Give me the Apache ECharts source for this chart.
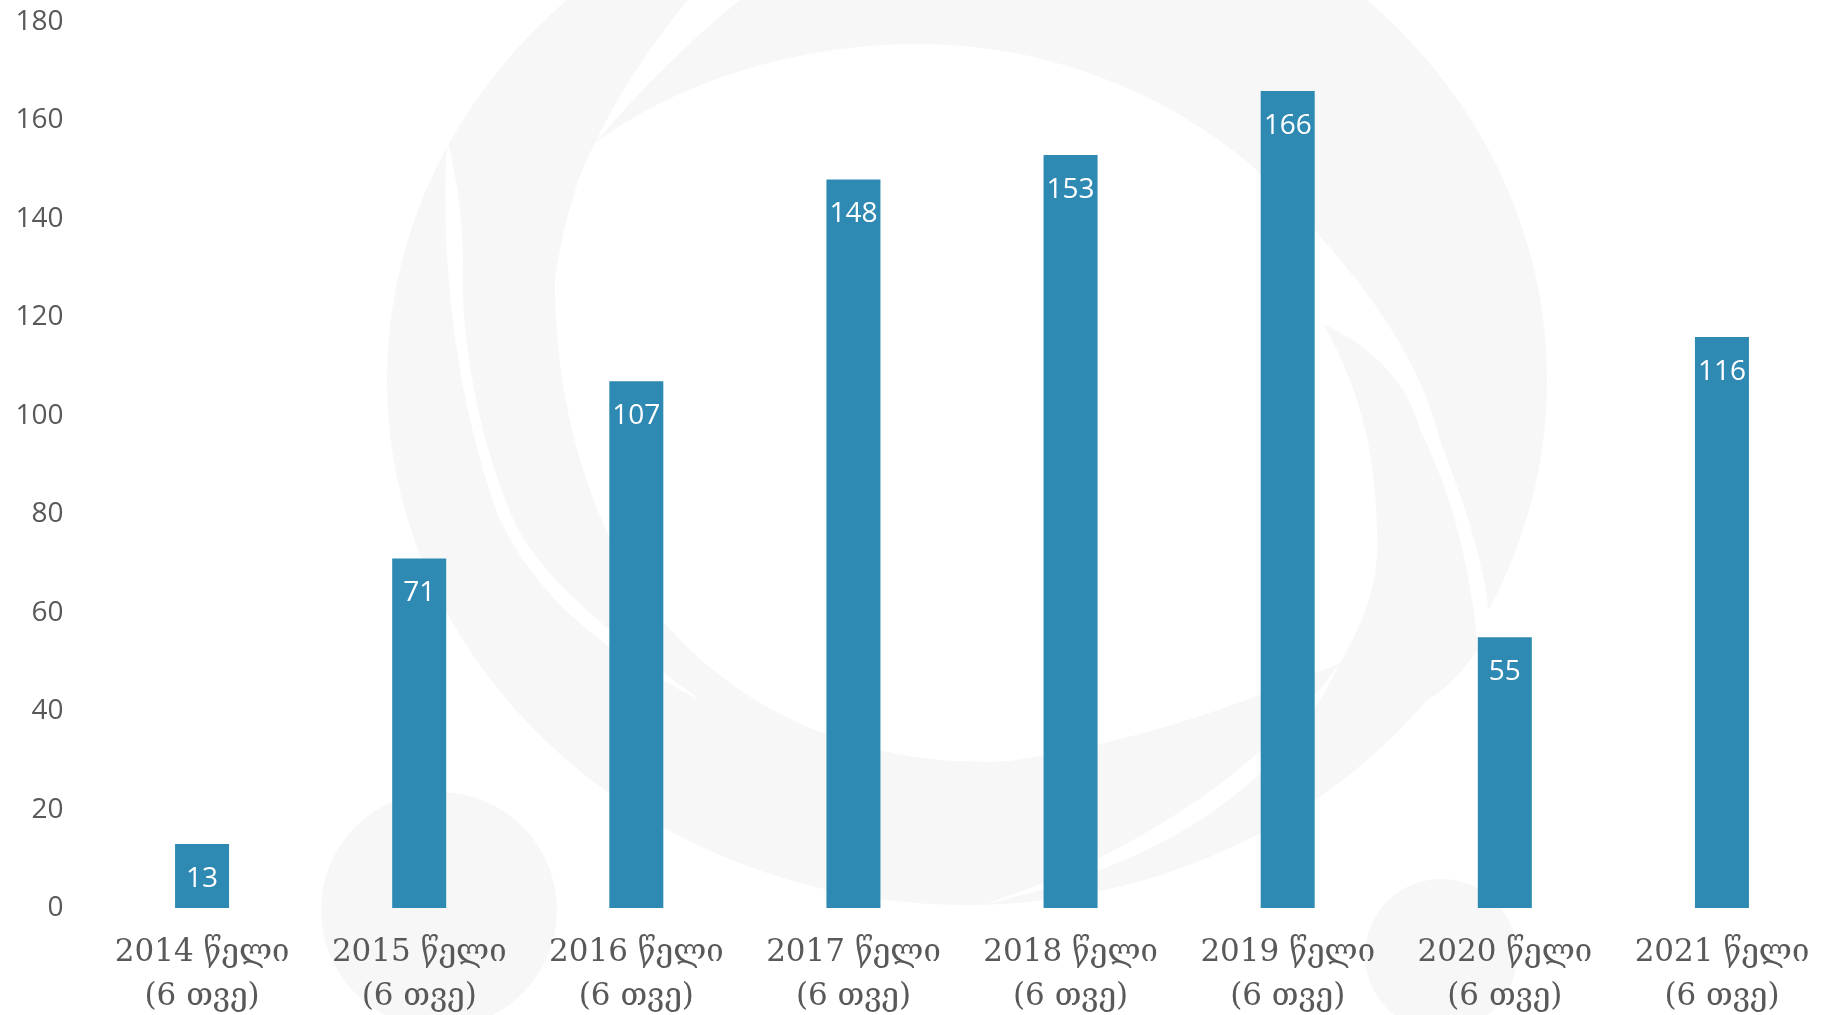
<!DOCTYPE html>
<html><head><meta charset="utf-8">
<script src="https://cdn.jsdelivr.net/npm/echarts@6/dist/echarts.min.js"></script>
<style>html,body{margin:0;padding:0;background:#fff}#c{width:1821px;height:1015px}</style>
</head><body><div id="c"></div>
<script>
const categories = ['2014 წელი\n(6 თვე)','2015 წელი\n(6 თვე)','2016 წელი\n(6 თვე)','2017 წელი\n(6 თვე)','2018 წელი\n(6 თვე)','2019 წელი\n(6 თვე)','2020 წელი\n(6 თვე)','2021 წელი\n(6 თვე)'];
const values = [13, 71, 107, 148, 153, 166, 55, 116];
const yTicks = [0, 20, 40, 60, 80, 100, 120, 140, 160, 180];

// turn a simple absolute path (M, C, L, Z) into polygon points for the background watermark
function pathPoints(d) {
  const tok = d.match(/[MCLZ]|-?\d+(\.\d+)?/g);
  const pts = []; let i = 0, cmd = null, cur = [0, 0];
  const num = () => parseFloat(tok[i++]);
  while (i < tok.length) {
    if (/[MCLZ]/.test(tok[i])) { cmd = tok[i++]; if (cmd === 'Z') continue; }
    if (cmd === 'M' || cmd === 'L') { cur = [num(), num()]; pts.push(cur); }
    else if (cmd === 'C') {
      const p1 = [num(), num()], p2 = [num(), num()], p3 = [num(), num()], p0 = cur;
      for (let k = 1; k <= 24; k++) {
        const t = k / 24, u = 1 - t;
        pts.push([
          u*u*u*p0[0] + 3*u*u*t*p1[0] + 3*u*t*t*p2[0] + t*t*t*p3[0],
          u*u*u*p0[1] + 3*u*u*t*p1[1] + 3*u*t*t*p2[1] + t*t*t*p3[1]
        ]);
      }
      cur = p3;
    } else i++;
  }
  return pts;
}

const chart = echarts.init(document.getElementById('c'), null, {renderer:'canvas'});
const wm = '#f7f7f7';
const W = '#ffffff';
const poly = (d, fill, z) => ({type:'polygon', z:z, silent:true, shape:{points: pathPoints(d)}, style:{fill:fill}});
chart.setOption({
  backgroundColor: '#ffffff',
  animation: false,
  graphic: [
    {type:'ellipse', z:-10, silent:true, shape:{cx:967, cy:380, rx:580, ry:525}, style:{fill:wm}},
    poly('M555,279 C565,215 578,175 595,143 C680,80 800,44 918,44 C1080,44 1220,120 1300,214 C1370,290 1420,360 1440,440 C1470,520 1490,580 1490,640 C1440,650 1390,655 1340,663 C1250,700 1150,740 1010,761 C850,770 700,700 620,560 C575,470 555,380 555,279 Z', W, -9),
    poly('M1323,324 C1380,350 1410,390 1420,430 C1450,490 1470,560 1478,650 C1440,700 1400,740 1340,663 C1365,620 1380,580 1377,530 C1375,440 1355,380 1323,324 Z', wm, -8),
    poly('M1340,663 C1270,760 1150,850 985,904 C1160,865 1280,790 1340,663 Z', W, -7),
    poly('M447,139 C440,260 455,400 500,520 C540,600 600,650 700,700 C620,640 540,580 513,519 C475,430 460,330 463,259 C462,210 455,170 447,139 Z', W, -7),
    poly('M595,143 C620,90 655,40 688,0 L740,0 C690,40 640,90 595,143 Z', W, -7),
    {type:'circle', z:-10, silent:true, shape:{cx:439, cy:910, r:118}, style:{fill:wm}},
    {type:'circle', z:-10, silent:true, shape:{cx:1441, cy:955, r:76}, style:{fill:wm}}
  ],
  grid: {left: 93.5, width: 1737, top: 22, bottom: 107, outerBoundsMode: 'none', containLabel: false},
  xAxis: {
    type: 'category', data: categories,
    axisLine: {show:false}, axisTick: {show:false},
    axisLabel: {margin: 23, color:'#595959', fontFamily:'DejaVu Serif', fontSize: 31, lineHeight: 44, interval: 0, hideOverlap: false}
  },
  yAxis: {
    type: 'value', min: 0, max: 180, interval: 20,
    splitLine: {show:false}, axisLine:{show:false}, axisTick:{show:false},
    axisLabel: {margin: 30, color:'#595959', fontFamily:'Open Sans', fontSize: 28,
      formatter: v => yTicks.includes(v) ? String(v) : ''}
  },
  series: [{
    type: 'bar', data: values, barWidth: 54,
    itemStyle: {color: '#2e89b3'},
    label: {show: true, position: 'insideTop', distance: 21, color:'#ffffff', fontFamily:'Open Sans', fontSize: 28}
  }]
});
</script></body></html>
